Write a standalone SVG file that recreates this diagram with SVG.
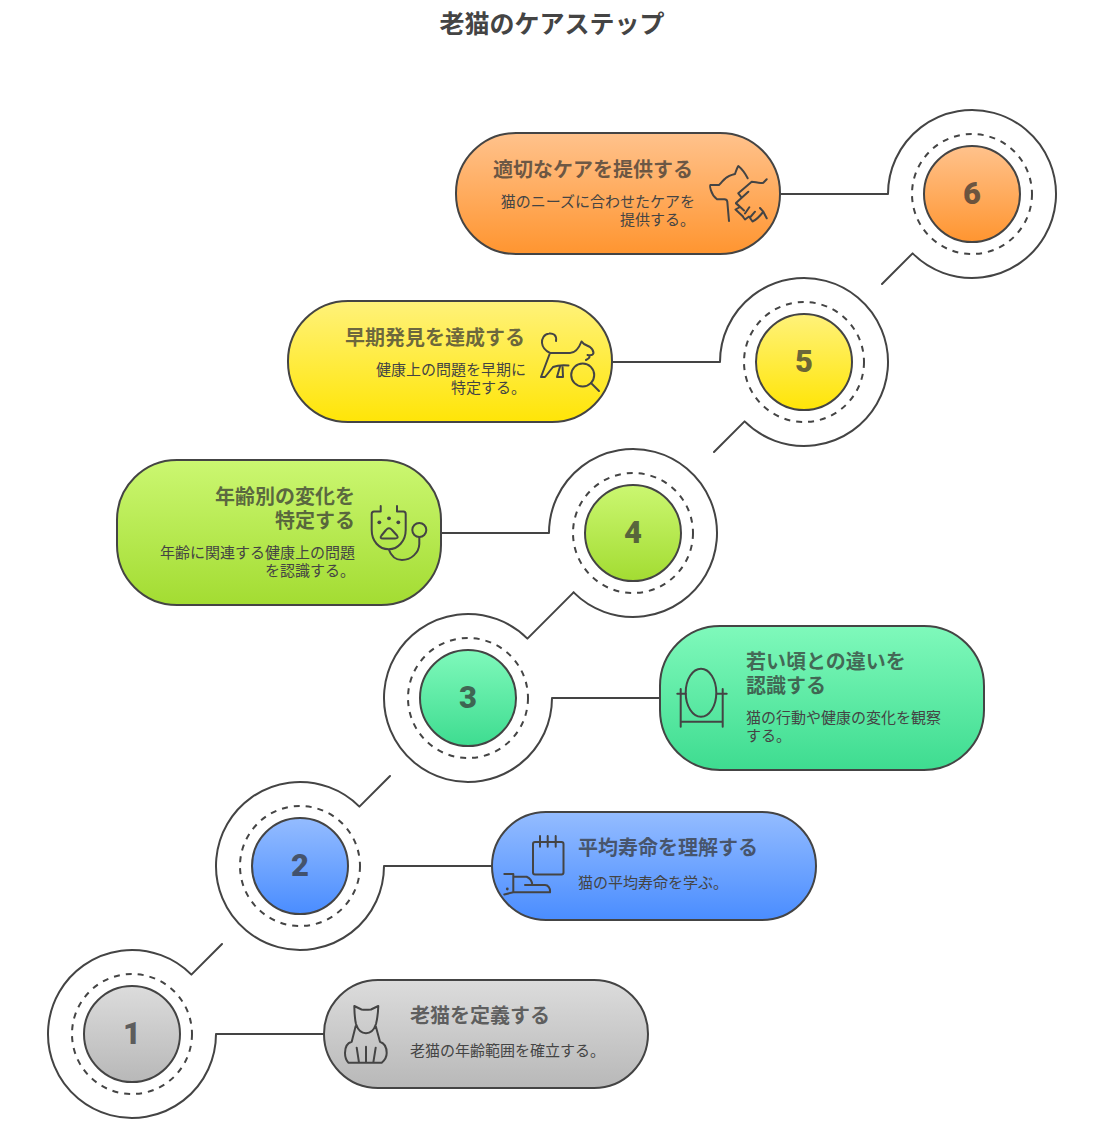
<svg xmlns="http://www.w3.org/2000/svg" width="1103" height="1135" viewBox="0 0 1103 1135">
<style>
text{font-family:"Noto Sans CJK JP","Noto Sans",sans-serif}
.ti{font-size:25px;font-weight:700;fill:#444}
.h{font-size:20px;font-weight:700;fill:#333;fill-opacity:.72}
.d{font-size:15px;fill:#444}
.e{text-anchor:end}
.n{font-family:Roboto,"Liberation Sans",sans-serif;font-size:31px;font-weight:900;fill:#333;fill-opacity:.72;text-anchor:middle}
.c{fill:none;stroke:#444;stroke-width:2;stroke-linejoin:round;stroke-linecap:round}
.s{stroke:#444;stroke-width:2}
.dash{fill:none;stroke:#444;stroke-width:2;stroke-dasharray:6 6}
.ic{fill:none;stroke:#444;stroke-width:2;stroke-linecap:round;stroke-linejoin:round}
</style>
<defs>
<linearGradient id="g1" x1="0" y1="0" x2="0" y2="1"><stop offset="0" stop-color="#dcdcdc"/><stop offset="1" stop-color="#b8b8b8"/></linearGradient>
<linearGradient id="g2" x1="0" y1="0" x2="0" y2="1"><stop offset="0" stop-color="#94bcff"/><stop offset="1" stop-color="#4a8dff"/></linearGradient>
<linearGradient id="g3" x1="0" y1="0" x2="0" y2="1"><stop offset="0" stop-color="#7ff9bb"/><stop offset="1" stop-color="#3edc90"/></linearGradient>
<linearGradient id="g4" x1="0" y1="0" x2="0" y2="1"><stop offset="0" stop-color="#cbf771"/><stop offset="1" stop-color="#a3dc32"/></linearGradient>
<linearGradient id="g5" x1="0" y1="0" x2="0" y2="1"><stop offset="0" stop-color="#fff27a"/><stop offset="1" stop-color="#ffe507"/></linearGradient>
<linearGradient id="g6" x1="0" y1="0" x2="0" y2="1"><stop offset="0" stop-color="#ffc28c"/><stop offset="1" stop-color="#ff9530"/></linearGradient>
</defs>
<text class="ti" x="552" y="33" text-anchor="middle" id="title">老猫のケアステップ</text>
<g id="connectors">
<path class="c" d="M222 944L191.4 974.6A84 84 0 1 0 216 1034H324"/>
<path class="c" d="M390 776L359.4 806.6A84 84 0 1 0 384 866H492"/>
<path class="c" d="M573.6 592.4L527.4 638.6A84 84 0 1 0 552 698H660"/>
<path class="c" d="M441 533H549A84 84 0 1 1 573.6 592.4"/>
<path class="c" d="M612 362H720A84 84 0 1 1 744.6 421.4L714 452"/>
<path class="c" d="M780 194H888A84 84 0 1 1 912.6 253.4L882 284"/>
</g>
<g id="node1">
<circle class="dash" cx="132" cy="1034" r="60"/><circle class="s" cx="132" cy="1034" r="48" fill="url(#g1)"/><text class="n" x="132" y="1044">1</text>
<rect class="s" x="324" y="980" width="324" height="108" rx="54" fill="url(#g1)"/>
<text class="h" x="410" y="1023">老猫を定義する</text><text class="d" x="410" y="1056">老猫の年齢範囲を確立する。</text>
<path class="ic" d="M354.3 1006C354.5 1015 355 1020 356 1024C358 1030 362 1033.3 366 1033.3C370 1033.3 374 1030 376 1024C377 1020 378 1015 378.3 1006L371 1009.5C367 1010 364 1010 361.5 1009.5ZM355.7 1026L351.7 1041.7C347 1043 345 1047 345 1053C345 1057 346 1060 348.3 1062.7H381.7C385 1060 386.7 1057 386.7 1053C386.7 1047 384 1043 380 1041.7L375.7 1026M356.7 1047.7L359 1062.7M366 1046.7V1062.7M375.7 1047.7L373.3 1062.7"/>
</g>
<g id="node2">
<circle class="dash" cx="300" cy="866" r="60"/><circle class="s" cx="300" cy="866" r="48" fill="url(#g2)"/><text class="n" x="300" y="876">2</text>
<rect class="s" x="492" y="812" width="324" height="108" rx="54" fill="url(#g2)"/>
<text class="h" x="578" y="855">平均寿命を理解する</text><text class="d" x="578" y="888">猫の平均寿命を学ぶ。</text>
<rect class="ic" x="533" y="842" width="30.5" height="32.5" rx="2"/>
<path class="ic" d="M540 836V846.7M547.7 836V846.7M555.7 836V846.7M504.3 874H513.3V892.3H550C550.5 888 548 885 545 885H525M513.3 876.7H526.7C530 878 532 881 532.3 885M513.3 892.3L504.3 894.5"/>
<circle cx="507.3" cy="889" r="1.4" fill="#444"/>
</g>
<g id="node3">
<circle class="dash" cx="468" cy="698" r="60"/><circle class="s" cx="468" cy="698" r="48" fill="url(#g3)"/><text class="n" x="468" y="708">3</text>
<rect class="s" x="660" y="626" width="324" height="144" rx="60" fill="url(#g3)"/>
<text class="h" x="746" y="669">若い頃との違いを</text><text class="h" x="746" y="693">認識する</text>
<text class="d" x="746" y="723">猫の行動や健康の変化を観察</text><text class="d" x="746" y="741">する。</text>
<ellipse class="ic" cx="701" cy="692.7" rx="15.3" ry="24"/>
<path class="ic" d="M680.7 689V726.7M722.7 689V726.7M680.7 721.7H722.7M677.3 693.7H685.7M717 693.7H726.7"/>
</g>
<g id="node4">
<circle class="dash" cx="633" cy="533" r="60"/><circle class="s" cx="633" cy="533" r="48" fill="url(#g4)"/><text class="n" x="633" y="543">4</text>
<rect class="s" x="117" y="460" width="324" height="145" rx="60" fill="url(#g4)"/>
<text class="h e" x="355" y="504">年齢別の変化を</text><text class="h e" x="355" y="528">特定する</text>
<text class="d e" x="355" y="558">年齢に関連する健康上の問題</text><text class="d e" x="355" y="576">を認識する。</text>
<path class="ic" d="M380.7 506V511.5H374C372.5 511.5 371.7 512.5 371.7 514V530C371.7 541 379 549.3 388.7 549.3C398 549.3 405.7 541 405.7 530V514C405.7 512.5 405 511.5 403.5 511.5H397V506M388.7 549.3C391 556 396 560 402 560C411 560 419 553 419.3 544V537"/>
<circle class="ic" cx="419.3" cy="530" r="7"/>
<path class="ic" d="M386 530C388 527.5 390 527.5 392 530L397 535.5C398.5 537.5 397.5 538.5 395 538.5H383C380.5 538.5 380 537.5 381.5 535.5Z"/>
<circle cx="379.3" cy="522.3" r="1.9" fill="#444"/><circle cx="389" cy="518.3" r="1.9" fill="#444"/><circle cx="398.3" cy="522.3" r="1.9" fill="#444"/>
</g>
<g id="node5">
<circle class="dash" cx="804" cy="362" r="60"/><circle class="s" cx="804" cy="362" r="48" fill="url(#g5)"/><text class="n" x="804" y="372">5</text>
<rect class="s" x="288" y="301" width="324" height="121" rx="60" fill="url(#g5)"/>
<text class="h e" x="525" y="345">早期発見を達成する</text>
<text class="d e" x="526" y="375">健康上の問題を早期に</text><text class="d e" x="526" y="393">特定する。</text>
<path class="ic" d="M556 341C557 335 553 333 549 333.5C544 334 541.5 339 542 343C542.5 348 546 351 550 353H570C576 353 579 348 581.5 341.5L584 344L590 347C592.5 349 593.5 351 593.5 353C593 355 590 355.5 587.5 355M589 355.5C590 357 590 358 586 360M550 353L541 377H545L553 367C558 365 563 365 568.5 365.5M560 366.5L557 377H563L562.5 366"/>
<circle class="ic" cx="582.7" cy="375" r="11.5"/>
<path class="ic" d="M591 383L599 391"/>
</g>
<g id="node6">
<circle class="dash" cx="972" cy="194" r="60"/><circle class="s" cx="972" cy="194" r="48" fill="url(#g6)"/><text class="n" x="972" y="204">6</text>
<rect class="s" x="456" y="133" width="324" height="121" rx="60" fill="url(#g6)"/>
<text class="h e" x="693" y="177">適切なケアを提供する</text>
<text class="d e" x="695" y="207">猫のニーズに合わせたケアを</text><text class="d e" x="695" y="225">提供する。</text>
<path class="ic" d="M729 221L727.3 201.7C727 200 726 199.3 724.5 199.3H717C714 197 712 194 711 190.5C710 187 709.5 185.5 710.5 185H719C722 182.5 723 180 725.5 178.3C728 176 731 175 735 174C736 171 737 168 738.3 166C742 169 745.5 174 747.7 178.3"/>
<path class="ic" d="M766.7 179.3L763.3 182.7C759 184 755 181.5 751.7 181.7L738.3 193.3L741.7 197.7L748.3 191.7M741.7 197.7L736 203L744 210.5M736 203.5L740 207L735.5 209.5L743 216.5M742 215.5L745 219.5L749 216.5L752.5 221.5C756 220 760 216 763.3 211.7L766.7 218.3M745 213.5L749.3 207.3M750 217.5L755 211.7M763.3 211.7L760 208"/>
</g>
</svg>
